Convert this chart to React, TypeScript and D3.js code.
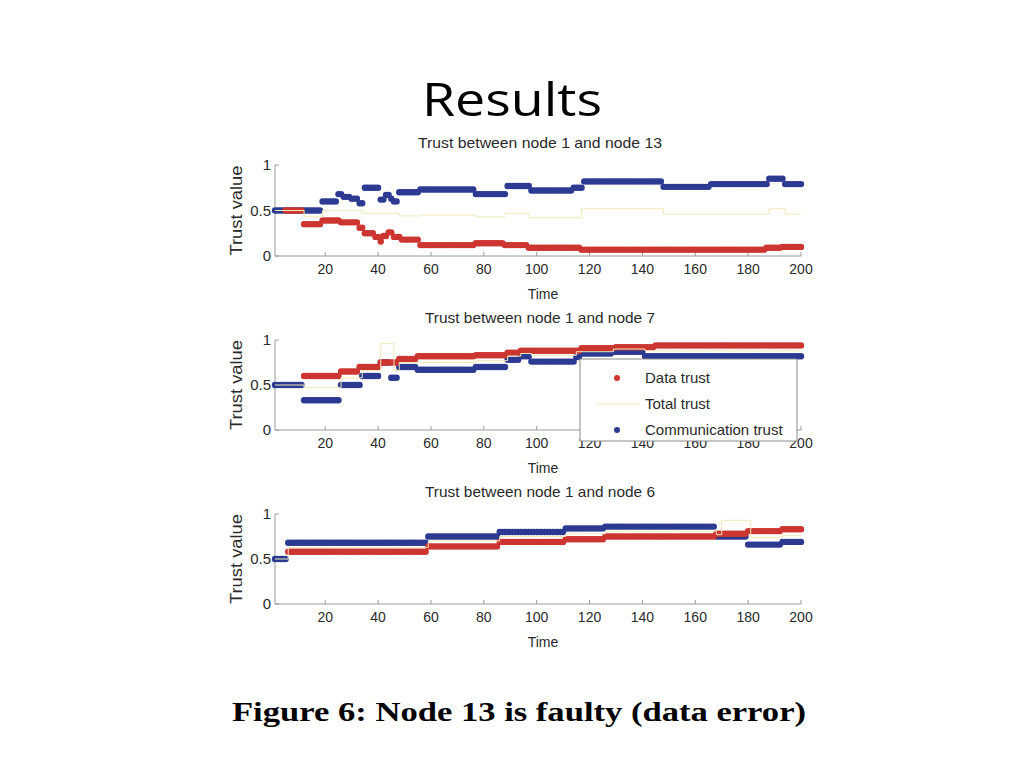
import React from "react";
import * as d3 from "d3";

// ---------- data (step series: start time + value) ----------
const xTicks = [20, 40, 60, 80, 100, 120, 140, 160, 180, 200];
const yTicks = [0, 0.5, 1];
const yTickLabels = ["0", "0.5", "1"];
const endTime = 200;

// Node 13
const n13DataStart = [5, 12, 19, 26, 33, 35, 39, 41, 42, 44, 46, 49, 56, 77, 88, 97, 117, 187, 193];
const n13DataValue = [0.5, 0.35, 0.39, 0.37, 0.31, 0.25, 0.21, 0.16, 0.22, 0.26, 0.21, 0.18, 0.12, 0.14, 0.12, 0.09, 0.07, 0.09, 0.1];
const n13CommStart = [1, 19, 25, 27, 30, 33, 35, 41, 43, 45, 46, 48, 56, 77, 89, 98, 114, 118, 148, 166, 188, 194];
const n13CommValue = [0.5, 0.6, 0.68, 0.65, 0.63, 0.58, 0.75, 0.62, 0.67, 0.63, 0.6, 0.7, 0.73, 0.68, 0.77, 0.72, 0.75, 0.82, 0.76, 0.79, 0.85, 0.79];
const n13TotalStart = [1, 12, 19, 34, 48, 56, 77, 88, 97, 117, 148, 188, 194];
const n13TotalValue = [0.5, 0.43, 0.5, 0.47, 0.44, 0.45, 0.43, 0.47, 0.42, 0.52, 0.46, 0.52, 0.46];

// Node 7
const n7DataStart = [12, 26, 33, 41, 48, 55, 77, 89, 94, 117, 130, 145];
const n7DataValue = [0.6, 0.65, 0.7, 0.75, 0.79, 0.82, 0.83, 0.86, 0.88, 0.91, 0.92, 0.94];
const n7CommStart = [1, 12, 26, 34, 41, 45, 48, 55, 77, 89, 94, 98, 115, 117, 129, 141];
const n7CommValue = [0.5, 0.33, 0.5, 0.6, 0.75, 0.58, 0.7, 0.67, 0.7, 0.78, 0.82, 0.76, 0.81, 0.85, 0.87, 0.82];
const n7TotalStart = [1, 12, 26, 34, 41, 46, 48, 55, 77, 89, 94, 98, 115, 129, 141];
const n7TotalValue = [0.5, 0.47, 0.58, 0.66, 0.96, 0.66, 0.75, 0.75, 0.77, 0.82, 0.85, 0.83, 0.87, 0.9, 0.88];

// Node 6
const n6DataStart = [6, 59, 86, 111, 126, 168, 180, 193];
const n6DataValue = [0.58, 0.64, 0.69, 0.72, 0.75, 0.78, 0.81, 0.83];
const n6CommStart = [1, 6, 59, 86, 111, 126, 168, 180, 193];
const n6CommValue = [0.5, 0.68, 0.75, 0.8, 0.84, 0.86, 0.75, 0.66, 0.69];
const n6TotalStart = [1, 6, 59, 86, 111, 126, 168, 170, 181, 193];
const n6TotalValue = [0.5, 0.63, 0.7, 0.75, 0.78, 0.81, 0.77, 0.93, 0.74, 0.76];

const legendLabels = ["Data trust", "Total trust", "Communication trust"];

// ---------- style ----------
const RED = "#cc3530";
const BLUE = "#2c3a92";
const YELLOW = "#f1e8b8";
const TEXT = "#2a2a2a";
const AXIS = "#9a9a9a";
const FONT = "'Liberation Sans', Arial, sans-serif";

type Step = { starts: number[]; values: number[] };

function expand(s: Step) {
  const pts: { t: number; v: number }[] = [];
  s.starts.forEach((st, i) => {
    const next = i < s.starts.length - 1 ? s.starts[i + 1] : endTime + 1;
    for (let t = st; t < next; t++) pts.push({ t, v: s.values[i] });
  });
  return pts;
}

const panels = [
  {
    title: "Trust between node 1 and node 13",
    titleLen: 244,
    y1: 165,
    y0: 256,
    data: { starts: n13DataStart, values: n13DataValue },
    comm: { starts: n13CommStart, values: n13CommValue },
    total: { starts: n13TotalStart, values: n13TotalValue },
    legend: false,
  },
  {
    title: "Trust between node 1 and node 7",
    titleLen: 230,
    y1: 340,
    y0: 430,
    data: { starts: n7DataStart, values: n7DataValue },
    comm: { starts: n7CommStart, values: n7CommValue },
    total: { starts: n7TotalStart, values: n7TotalValue },
    legend: true,
  },
  {
    title: "Trust between node 1 and node 6",
    titleLen: 230,
    y1: 514,
    y0: 604,
    data: { starts: n6DataStart, values: n6DataValue },
    comm: { starts: n6CommStart, values: n6CommValue },
    total: { starts: n6TotalStart, values: n6TotalValue },
    legend: false,
  },
];

const x = d3.scaleLinear().domain([1, 200]).range([275, 801]);
const xMid = (x.range()[0] + x.range()[1]) / 2;

function Panel({ p }: { p: (typeof panels)[number] }) {
  const y = d3.scaleLinear().domain([0, 1]).range([p.y0, p.y1]);
  const dataPts = expand(p.data);
  const commPts = expand(p.comm);
  const totalSteps = p.total.starts.map((s, i) => [s, p.total.values[i]] as [number, number]);
  totalSteps.push([endTime, p.total.values[p.total.values.length - 1]]);
  const line = d3
    .line<[number, number]>()
    .x((d) => x(d[0]))
    .y((d) => y(d[1]))
    .curve(d3.curveStepAfter);
  const [xl, xr] = x.range();
  const yMid = (p.y0 + p.y1) / 2;
  return (
    <g>
      <text x={540} y={p.y1 - 22} dy="0.35em" textAnchor="middle" fontSize={15} fill={TEXT} fontFamily={FONT} textLength={p.titleLen} lengthAdjust="spacingAndGlyphs">
        {p.title}
      </text>
      {/* axes */}
      <line x1={xl} x2={xl} y1={p.y1} y2={p.y0} stroke={AXIS} strokeWidth={1} />
      <line x1={xl} x2={xr} y1={p.y0} y2={p.y0} stroke={AXIS} strokeWidth={1} />
      {xTicks.map((t) => (
        <g key={t}>
          <line x1={x(t)} x2={x(t)} y1={p.y0} y2={p.y0 - 4} stroke={AXIS} />
          <text x={x(t)} y={p.y0 + 13} dy="0.35em" textAnchor="middle" fontSize={14} fill={TEXT} fontFamily={FONT}>
            {t}
          </text>
        </g>
      ))}
      {yTicks.map((v, i) => (
        <g key={v}>
          <line x1={xl} x2={xl + 4} y1={y(v)} y2={y(v)} stroke={AXIS} />
          <text x={xl - 4} y={y(v)} dy="0.35em" textAnchor="end" fontSize={15} fill={TEXT} fontFamily={FONT}>
            {yTickLabels[i]}
          </text>
        </g>
      ))}
      <text x={xMid + 5} y={p.y0 + 38} dy="0.35em" textAnchor="middle" fontSize={14} fill={TEXT} fontFamily={FONT}>
        Time
      </text>
      <text
        transform={`translate(236,${yMid}) rotate(-90)`}
        dy="0.35em"
        textAnchor="middle"
        fontSize={16}
        fill={TEXT}
        fontFamily={FONT}
        textLength={90}
        lengthAdjust="spacingAndGlyphs"
      >
        Trust value
      </text>
      {/* series */}
      {commPts.map((d) => (
        <circle key={"c" + d.t} cx={x(d.t)} cy={y(d.v)} r={3.2} fill={BLUE} />
      ))}
      {dataPts.map((d) => (
        <circle key={"d" + d.t} cx={x(d.t)} cy={y(d.v)} r={3.2} fill={RED} />
      ))}
      <path d={line(totalSteps) || ""} fill="none" stroke={YELLOW} strokeWidth={1} />
      {p.legend && (
        <g>
          <rect x={580} y={359} width={217} height={82} fill="#ffffff" stroke="#8a8a8a" strokeWidth={1} />
          <circle cx={617} cy={378} r={3} fill={RED} />
          <line x1={597} x2={640} y1={404} y2={404} stroke={YELLOW} strokeWidth={1} />
          <circle cx={617} cy={430} r={3} fill={BLUE} />
          {legendLabels.map((l, i) => (
            <text key={l} x={645} y={378 + i * 26} dy="0.35em" fontSize={15} fill={TEXT} fontFamily={FONT}>
              {l}
            </text>
          ))}
        </g>
      )}
    </g>
  );
}

export default function App() {
  return (
    <svg width={1024} height={768} style={{ position: "absolute", left: 0, top: 0, background: "#fff" }}>
      <rect width={1024} height={768} fill="#ffffff" />
      <text x={512} y={116} textAnchor="middle" fontSize={46} fill="#000" fontFamily="'Open Sans', 'Liberation Sans', sans-serif" textLength={180} lengthAdjust="spacingAndGlyphs">
        Results
      </text>
      {panels.map((p) => (
        <Panel key={p.title} p={p} />
      ))}
      <text x={519} y={721} textAnchor="middle" fontSize={28} fontWeight="bold" fill="#000" style={{ fontFamily: "'Liberation Serif', 'Times New Roman', Times, serif" }} textLength={574} lengthAdjust="spacingAndGlyphs">
        Figure 6: Node 13 is faulty (data error)
      </text>
    </svg>
  );
}
